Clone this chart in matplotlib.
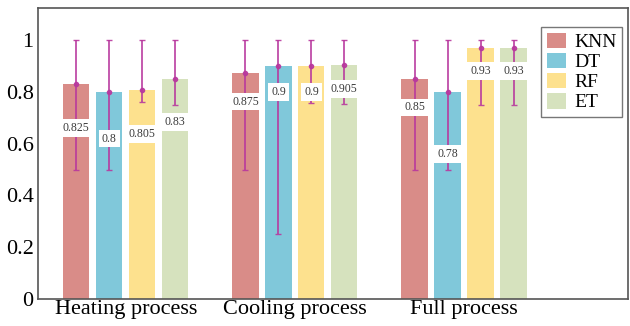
import matplotlib.pyplot as plt
import numpy as np

# data
processes = ['Heating process', 'Cooling process', 'Full process']
models = ['KNN', 'DT', 'RF', 'ET']

# bar heights / error bar centres per model (one value per process)
mean_vals = {
    'KNN': [0.83, 0.873, 0.85],
    'DT': [0.80, 0.90, 0.80],
    'RF': [0.807, 0.90, 0.97],
    'ET': [0.85, 0.903, 0.97],
}
lower_vals = {
    'KNN': [0.50, 0.50, 0.50],
    'DT': [0.50, 0.25, 0.50],
    'RF': [0.76, 0.757, 0.75],
    'ET': [0.75, 0.753, 0.75],
}
upper_vals = {
    'KNN': [1.0, 1.0, 1.0],
    'DT': [1.0, 1.0, 1.0],
    'RF': [1.0, 1.0, 1.0],
    'ET': [1.0, 1.0, 1.0],
}
# printed scores
score_labels = {
    'KNN': ['0.825', '0.875', '0.85'],
    'DT': ['0.8', '0.9', '0.78'],
    'RF': ['0.805', '0.9', '0.93'],
    'ET': ['0.83', '0.905', '0.93'],
}

# layout: how far below the bar top each score label sits
label_drop = {
    'KNN': [0.17, 0.11, 0.11],
    'DT': [0.18, 0.10, 0.24],
    'RF': [0.17, 0.10, 0.09],
    'ET': [0.165, 0.09, 0.09],
}
colors = {'KNN': '#d98c88', 'DT': '#80c8da', 'RF': '#fde18e', 'ET': '#d6e2be'}
err_color = '#b8389e'

plt.rcParams['font.family'] = ['Liberation Serif', 'DejaVu Serif']

fig = plt.figure(figsize=(6.3, 3.26), dpi=100)
ax = fig.add_axes([0.060, 0.083, 0.937, 0.892])

x = np.arange(len(processes))
step = 0.195
width = 0.155

for i, m in enumerate(models):
    xs = x + (i - 1.5) * step
    h = np.array(mean_vals[m])
    lo = np.array(lower_vals[m])
    hi = np.array(upper_vals[m])
    ax.bar(xs, h, width, color=colors[m], label=m, zorder=1)
    ax.errorbar(xs, h, yerr=[h - lo, hi - h], fmt='o', ms=3, color=err_color,
                ecolor=err_color, elinewidth=1.3, capsize=2.5, capthick=1,
                alpha=0.9, zorder=3)
    for xi, hv, txt, d in zip(xs, h, score_labels[m], label_drop[m]):
        ax.text(xi, hv - d, txt, ha='center', va='center', fontsize=8.5,
                color='#3a3a3a', zorder=4,
                bbox=dict(boxstyle='square,pad=0.25', fc='white', ec='none'))

ax.set_xlim(-0.52, 2.97)
ax.set_ylim(0, 1.124)
ax.set_xticks(x)
ax.set_xticklabels(processes, fontsize=16)
ax.set_yticks([0, 0.2, 0.4, 0.6, 0.8, 1.0])
ax.set_yticklabels(['0', '0.2', '0.4', '0.6', '0.8', '1'], fontsize=16)
ax.tick_params(axis='x', length=0, pad=1)
ax.tick_params(axis='y', length=0, pad=3)
for s in ax.spines.values():
    s.set_color('#555555')
    s.set_linewidth(1.2)

leg = ax.legend(loc='upper right', bbox_to_anchor=(0.99, 0.935), fontsize=14,
                frameon=True, fancybox=False, edgecolor='#555555',
                handlelength=1.0, handleheight=0.85, handletextpad=0.4,
                labelspacing=0.08, borderpad=0.3, borderaxespad=0)
leg.get_frame().set_linewidth(1.0)

plt.savefig('out.png', dpi=100)
